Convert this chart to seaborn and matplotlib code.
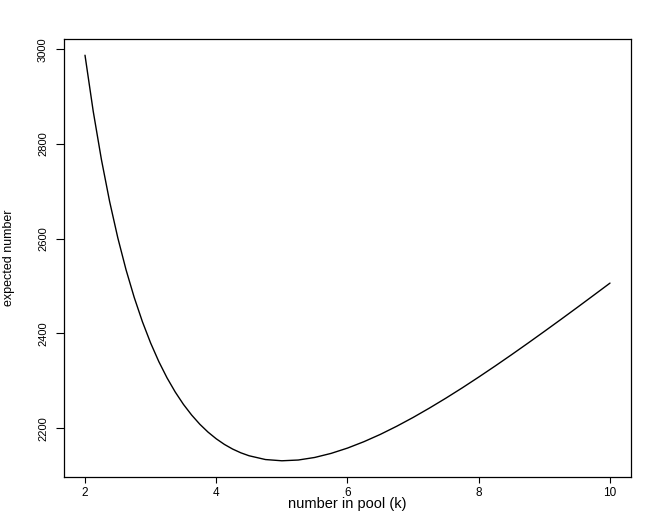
import matplotlib
matplotlib.use("Agg")
import matplotlib.pyplot as plt
import seaborn as sns
import pandas as pd

k_values = [2.0, 2.125, 2.25, 2.375, 2.5, 2.625, 2.75, 2.875, 3.0, 3.125,
            3.25, 3.375, 3.5, 3.625, 3.75, 3.875, 4.0, 4.125, 4.25, 4.375,
            4.5, 4.75, 5.0, 5.25, 5.5, 5.75, 6.0, 6.25, 6.5, 6.75, 7.0, 7.25,
            7.5, 7.75, 8.0, 8.25, 8.5, 8.75, 9.0, 9.25, 9.5, 9.75, 10.0]
expected = [2987.5, 2869.3, 2767.3, 2678.7, 2601.8, 2534.6, 2476.0, 2424.7,
            2379.8, 2340.5, 2306.2, 2276.3, 2250.2, 2227.7, 2208.2, 2191.6,
            2177.5, 2165.6, 2155.8, 2147.9, 2141.7, 2133.7, 2131.1, 2132.7,
            2138.1, 2146.7, 2157.9, 2171.4, 2186.8, 2204.0, 2222.6, 2242.5,
            2263.4, 2285.2, 2307.9, 2331.2, 2355.1, 2379.5, 2404.3, 2429.4,
            2454.8, 2480.5, 2506.3]
x_ticks = [2, 4, 6, 8, 10]
y_ticks = [2200, 2400, 2600, 2800, 3000]

sns.set_style("ticks")
plt.rcParams['font.family'] = ['Liberation Sans', 'DejaVu Sans']
plt.rcParams['text.color'] = 'black'
plt.rcParams['axes.labelcolor'] = 'black'
plt.rcParams['xtick.color'] = 'black'
plt.rcParams['ytick.color'] = 'black'

df = pd.DataFrame({"k": k_values, "expected": expected})

fig = plt.figure(figsize=(6.64, 5.26), dpi=100)
ax = fig.add_axes([64/664, 1-477/526, (631-64)/664, (477-39)/526])
sns.lineplot(data=df, x="k", y="expected", ax=ax, color="black", linewidth=1.0)

xr = max(k_values) - min(k_values)
yr = max(expected) - min(expected)
ax.set_xlim(min(k_values) - 0.04*xr, max(k_values) + 0.04*xr)
ax.set_ylim(min(expected) - 0.04*yr, max(expected) + 0.04*yr)

ax.set_xticks(x_ticks)
ax.set_xticklabels([str(t) for t in x_ticks], fontsize=8.5)
ax.set_yticks(y_ticks)
ax.set_yticklabels([str(t) for t in y_ticks], fontsize=8, rotation=90,
                   va='center')
ax.tick_params(axis='x', direction='out', length=4, width=0.8, pad=3)
ax.tick_params(axis='y', direction='out', length=6, width=0.8, pad=5.5)
ax.set_xlabel("number in pool (k)", fontsize=10.5, labelpad=-1)
ax.set_ylabel("expected number", fontsize=9)
ax.yaxis.set_label_coords(-(64-15)/567, 0.5)
for s in ax.spines.values():
    s.set_color('black')
    s.set_linewidth(0.9)
    s.set_visible(True)

fig.savefig("out.png", dpi=100)
